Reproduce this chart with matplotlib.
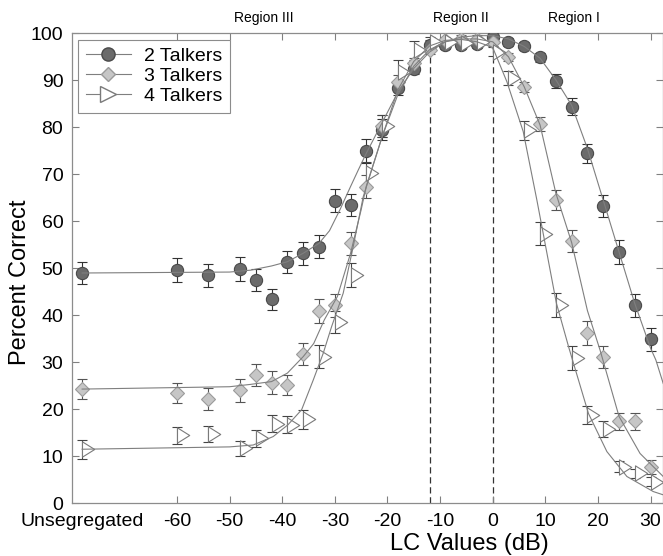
import matplotlib
matplotlib.use("Agg")
import matplotlib.pyplot as plt
from matplotlib.lines import Line2D
from matplotlib.path import Path
from matplotlib import transforms

plt.rcParams['font.family'] = ['Liberation Sans', 'DejaVu Sans']

# measured points (dB) ; "Unsegregated" is drawn at the far left
lc_values = [-60, -54, -48, -45, -42, -39, -36, -33, -30, -27, -24, -21, -18, -15,
             -12, -9, -6, -3, 0, 3, 6, 9, 12, 15, 18, 21, 24, 27, 30]
unseg_x = -78

talk2 = [49.6, 48.5, 49.8, 47.5, 43.4, 51.4, 53.2, 54.6, 64.4, 63.5, 75.0, 79.5, 88.3, 92.5,
         97.5, 97.5, 97.5, 97.7, 99.3, 98.2, 97.3, 94.9, 89.9, 84.4, 74.5, 63.3, 53.5, 42.1, 34.9]
talk3 = [23.5, 22.2, 24.0, 27.3, 25.7, 25.2, 31.8, 40.9, 42.1, 55.3, 67.4, 80.3, 89.7, 93.6,
         96.5, 98.5, 98.8, 98.8, 98.2, 95.0, 88.6, 80.7, 64.5, 55.8, 36.2, 31.1, 17.5, 17.5, 7.8]
talk4 = [14.5, 14.7, 11.7, 13.8, 16.9, 16.7, 17.9, 31.2, 38.6, 48.6, 70.2, 80.3, 91.8, 96.4,
         98.2, 98.2, 97.9, 98.2, 96.1, 90.4, 79.4, 57.4, 42.2, 30.9, 18.8, 15.8, 7.8, 6.4, 4.6]
unseg = [49.0, 24.3, 11.5]

err2 = [2.5, 2.4, 2.5, 2.3, 2.3, 2.3, 2.5, 2.5, 2.4, 2.4, 2.5, 2.2, 1.5, 1.2,
        1.0, 0.8, 0.8, 0.8, 0.8, 0.8, 0.8, 1.0, 1.5, 1.8, 2.0, 2.3, 2.5, 2.5, 2.5]
err3 = [2.2, 2.3, 2.4, 2.4, 2.4, 2.2, 2.3, 2.5, 2.4, 2.5, 2.5, 2.4, 1.5, 1.2,
        1.0, 0.8, 0.8, 0.8, 0.8, 0.8, 1.0, 1.5, 2.2, 2.4, 2.5, 2.3, 1.8, 1.8, 1.5]
err4 = [1.8, 1.7, 1.6, 1.8, 1.8, 1.8, 2.0, 2.4, 2.4, 2.5, 2.5, 2.4, 2.5, 2.0,
        1.0, 0.8, 0.8, 0.8, 1.0, 1.5, 2.0, 2.4, 2.5, 2.5, 2.0, 1.8, 1.2, 1.0, 1.0]
unseg_err = [2.3, 2.2, 2.0]

# fitted curves
fit2_x = [-78, -50, -46, -42, -39, -36, -33, -31, -29, -27, -25.5, -24, -21, -18, -15, -12,
          -9, -6, -3, 0, 3, 6, 9, 12, 15, 18, 21, 24, 27, 30, 31, 32.4]
fit2_y = [49.0, 49.2, 49.6, 50.5, 51.4, 53.2, 55.3, 58.0, 62.5, 67.4, 71.0, 74.5, 81.0, 87.5,
          92.5, 96.0, 98.2, 99.2, 99.5, 99.5, 98.8, 97.2, 94.7, 90.1, 84.7, 75.5, 64.5, 53.5,
          42.5, 33.0, 30.5, 25.5]
fit3_x = [-78, -50, -46, -42, -39, -36, -34, -32, -29.5, -27, -25, -24, -21, -18, -15, -12,
          -9, -6, -3, 0, 3, 6, 9, 12, 15, 18, 20.4, 24, 28, 32.4]
fit3_y = [24.3, 24.8, 25.3, 25.9, 27.7, 31.2, 34.0, 39.0, 44.0, 53.2, 62.4, 67.5, 78.0, 87.0,
          93.0, 96.5, 98.2, 98.8, 98.8, 98.2, 95.0, 88.6, 80.5, 66.0, 55.5, 41.0, 32.6, 18.5,
          10.6, 5.7]
fit4_x = [-78, -50, -45.5, -41.7, -38.9, -36.3, -34.1, -32.2, -30.6, -28.4, -26.5, -24.6, -21,
          -18, -15, -12, -9, -6, -3, 0, 2.7, 5.8, 8.4, 9.6, 12.1, 14.5, 18.2, 21.7, 25.5, 30.5, 32.4]
fit4_y = [11.5, 12.0, 12.4, 14.2, 16.7, 19.9, 26.2, 31.9, 37.6, 44.7, 54.6, 65.2, 78.0, 88.0,
          94.0, 97.3, 98.5, 98.7, 98.2, 97.0, 89.7, 79.1, 64.5, 57.4, 42.6, 33.0, 19.1, 11.0,
          5.7, 2.5, 1.8]

xtick_vals = [unseg_x, -60, -50, -40, -30, -20, -10, 0, 10, 20, 30]
xtick_labels = ['Unsegregated', '-60', '-50', '-40', '-30', '-20', '-10', '0', '10', '20', '30']
region_names = ['Region III', 'Region II', 'Region I']
region_pos = [-43.5, -6, 15.5]
boundaries = [-12, 0]

# triangle whose flat side sits on the data point (like the original)
tri = Path([(0, -1), (0, 1), (1.6, 0), (0, -1)],
           [Path.MOVETO, Path.LINETO, Path.LINETO, Path.CLOSEPOLY])

fig = plt.figure(figsize=(6.63, 5.56), dpi=100)
ax = fig.add_axes([0.108, 0.0948, 0.892, 0.8453])

styles = [
    dict(marker='o', ms=8.8, mfc='#6b6b6b', mec='#4a4a4a', ecolor='#333333'),
    dict(marker='D', ms=7.4, mfc='#c6c6c6', mec='#9a9a9a', ecolor='#555555'),
    dict(marker=tri, ms=17.6, mfc='white', mec='#7a7a7a', ecolor='#444444'),
]
series = [talk2, talk3, talk4]
errs = [err2, err3, err4]
fits = [(fit2_x, fit2_y), (fit3_x, fit3_y), (fit4_x, fit4_y)]

for i in range(3):
    st = styles[i]
    xs = [unseg_x] + lc_values
    ys = [unseg[i]] + series[i]
    es = [unseg_err[i]] + errs[i]
    ax.errorbar(xs, ys, yerr=es, fmt='none', ecolor=st['ecolor'], elinewidth=0.8,
                capsize=3.8, capthick=0.8, zorder=2)
    ax.plot(xs, ys, linestyle='none', marker=st['marker'], ms=st['ms'],
            mfc=st['mfc'], mec=st['mec'], mew=0.8, zorder=3)
    ax.plot(fits[i][0], fits[i][1], color='#7f7f7f', lw=0.8, zorder=4)

for b in boundaries:
    ax.axvline(b, color='#333333', lw=0.9, ls=(0, (5, 3)), zorder=1)

ax.set_xlim(-80, 32.36)
ax.set_ylim(0, 100)
ax.set_xticks(xtick_vals)
ax.set_xticklabels(xtick_labels)
ax.set_yticks(range(0, 101, 10))
ax.tick_params(direction='in', length=5, width=0.8, color='#808080', labelsize=14,
               top=True, right=True)
ax.tick_params(axis='x', pad=7)
ax.tick_params(axis='y', pad=6)
ax.xaxis.get_major_ticks()[0].tick1line.set_visible(False)
ax.xaxis.get_major_ticks()[0].tick2line.set_visible(False)
for s in ax.spines.values():
    s.set_color('#8c8c8c')
    s.set_linewidth(0.9)

ax.set_xlabel('LC Values (dB)', fontsize=17, va='center')
ax.xaxis.set_label_coords(0.672, -0.087)
ax.set_ylabel('Percent Correct', fontsize=17)
ax.yaxis.set_label_coords(-0.068, 0.471)

trans = transforms.blended_transform_factory(ax.transData, ax.transAxes)
for name, xp in zip(region_names, region_pos):
    ax.text(xp, 1.033, name, transform=trans, ha='center', va='center', fontsize=10,
            family=['Liberation Sans Narrow', 'Liberation Sans', 'DejaVu Sans'])

handles = [
    Line2D([], [], color='#7f7f7f', lw=0.8, marker='o', ms=9.5, mfc='#6b6b6b', mec='#4a4a4a'),
    Line2D([], [], color='#7f7f7f', lw=0.8, marker='D', ms=7.5, mfc='#c6c6c6', mec='#9a9a9a'),
    Line2D([], [], color='#7f7f7f', lw=0.8, marker='>', ms=11, mfc='white', mec='#7a7a7a'),
]
leg = ax.legend(handles, ['2 Talkers', '3 Talkers', '4 Talkers'], loc='upper left',
                bbox_to_anchor=(0.011, 0.986), borderaxespad=0, fontsize=14,
                fancybox=False, framealpha=1, edgecolor='#8c8c8c', handlelength=2.3,
                labelspacing=0.12, borderpad=0.4, handletextpad=0.7)
leg.get_frame().set_linewidth(0.8)

fig.savefig('out.png', dpi=100)
